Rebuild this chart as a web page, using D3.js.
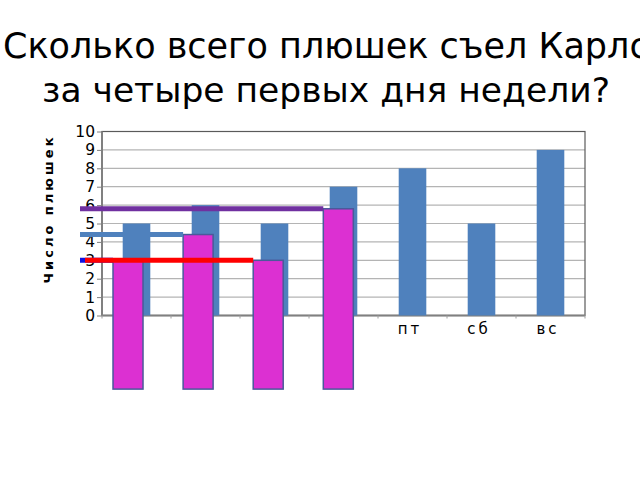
<!DOCTYPE html>
<html><head><meta charset="utf-8">
<script src="https://cdn.jsdelivr.net/npm/d3@7"></script>
<style>body{margin:0;background:#fff}svg{display:block}</style>
</head><body>
<svg id="c" width="640" height="480"></svg>
<script>
const days = ["пн","вт","ср","чт","пт","сб","вс"];
const eaten = [5,6,5,7,8,5,9];
const overlayDays = ["пн","вт","ср","чт"];
const overlayTops = [3,4.4,3,5.8];
const overlayBase = -4;
const yTicks = [0,1,2,3,4,5,6,7,8,9,10];
const title1 = "Сколько всего плюшек съел Карлсон";
const title2 = "за четыре первых дня недели?";
const yTitle = "Число плюшек";
// guide lines: value, colour, index of overlay bar they run to
const guideValues = [5.8, 4.4, 3];
const guideColors = ["#7030A0", "#4F81BD", "#FF0000"];
const guideTo = [3, 1, 2];

const svg = d3.select("#c");
const L=102, R=585, T=131.5, B=315.5;
const x = d3.scaleBand().domain(days).range([L,R]).paddingInner(0.6).paddingOuter(0.3);
const y = d3.scaleLinear().domain([0,10]).range([B,T]);
const xo = d3.scaleBand().domain(days).range([95,581.6]).paddingInner(0.572).paddingOuter(0.257);

// title
svg.append("text").attr("x",3).attr("y",58).text(title1)
  .attr("font-family","DejaVu Sans").attr("font-size",35).attr("fill","#000");
svg.append("text").attr("x",326).attr("y",102).attr("text-anchor","middle").text(title2)
  .attr("font-family","DejaVu Sans").attr("font-size",34.5).attr("fill","#000");

// plot background
svg.append("rect").attr("x",L).attr("y",T).attr("width",R-L).attr("height",B-T).attr("fill","#fff");
// grid
svg.append("g").selectAll("line").data(yTicks.slice(1)).join("line")
  .attr("x1",L).attr("x2",R).attr("y1",d=>y(d)).attr("y2",d=>y(d))
  .attr("stroke","#b4b4b4").attr("stroke-width",1.2);
// y axis
const ya = svg.append("g").attr("transform",`translate(${L},0)`)
  .call(d3.axisLeft(y).tickValues(yTicks).tickSize(5).tickPadding(2));
ya.select(".domain").remove();
ya.selectAll("line").attr("stroke","#808080");
ya.selectAll("text").attr("font-family","DejaVu Sans").attr("font-size",15.5).attr("fill","#000");
// border
svg.append("rect").attr("x",L).attr("y",T).attr("width",R-L).attr("height",B-T)
  .attr("fill","none").attr("stroke","#5a5a5a").attr("stroke-width",1.2);
svg.append("line").attr("x1",L).attr("x2",L).attr("y1",T).attr("y2",B).attr("stroke","#808080").attr("stroke-width",2);
svg.append("line").attr("x1",L).attr("x2",R).attr("y1",B).attr("y2",B).attr("stroke","#808080").attr("stroke-width",2);
// x ticks
svg.append("g").selectAll("line").data(d3.range(days.length+1)).join("line")
  .attr("x1",i=>L+i*x.step()).attr("x2",i=>L+i*x.step()).attr("y1",B).attr("y2",B+3)
  .attr("stroke","#a0a0a0");

// blue bars
svg.append("g").selectAll("rect").data(days).join("rect")
  .attr("x",d=>x(d)).attr("width",x.bandwidth())
  .attr("y",(d,i)=>y(eaten[i])).attr("height",(d,i)=>y(0)-y(eaten[i]))
  .attr("fill","#4F81BD");

// x labels
svg.append("g").selectAll("text").data(days).join("text")
  .attr("x",d=>x(d)+x.bandwidth()/2-2.5).attr("y",B+18).attr("text-anchor","middle")
  .attr("font-family","DejaVu Sans").attr("font-size",15).attr("letter-spacing",3).text(d=>d);

// y title
svg.append("text").attr("transform",`translate(53,209) rotate(-90)`).attr("text-anchor","middle")
  .attr("font-family","DejaVu Sans").attr("font-weight","bold").attr("font-size",13)
  .attr("letter-spacing",3).text(yTitle);

// magenta overlay bars
svg.append("g").selectAll("rect").data(overlayDays).join("rect")
  .attr("x",d=>xo(d)).attr("width",xo.bandwidth())
  .attr("y",(d,i)=>y(overlayTops[i])).attr("height",(d,i)=>y(overlayBase)-y(overlayTops[i]))
  .attr("fill","#DC30D2").attr("stroke","#4a5a9a").attr("stroke-width",1.5);

// guide lines
svg.append("line").attr("x1",80).attr("x2",xo(overlayDays[0])).attr("y1",y(3)).attr("y2",y(3))
  .attr("stroke","#1010e0").attr("stroke-width",5);
svg.append("g").selectAll("line").data(guideValues).join("line")
  .attr("x1",(d,i)=>i===2?85:80).attr("x2",(d,i)=>xo(overlayDays[guideTo[i]]))
  .attr("y1",d=>y(d)).attr("y2",d=>y(d))
  .attr("stroke",(d,i)=>guideColors[i]).attr("stroke-width",5);
</script>
</body></html>
